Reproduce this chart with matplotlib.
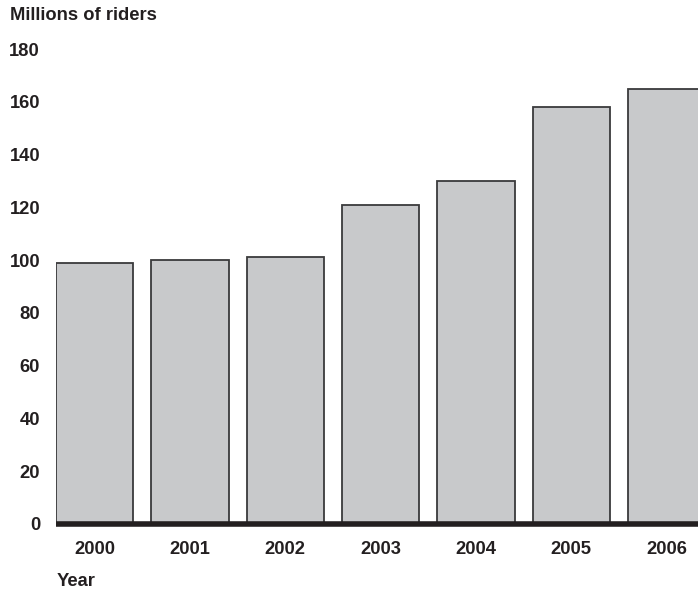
import matplotlib.pyplot as plt

years = ["2000", "2001", "2002", "2003", "2004", "2005", "2006"]
riders = [99, 100, 101, 121, 130, 158, 165]
y_ticks = [0, 20, 40, 60, 80, 100, 120, 140, 160, 180]

TEXT = "#231f20"
BAR_FILL = "#c8c9cb"
BAR_EDGE = "#3a3a3c"

plt.rcParams["font.family"] = ["Liberation Sans", "DejaVu Sans"]
plt.rcParams["font.weight"] = "bold"

fig = plt.figure(figsize=(6.98, 5.91), dpi=100)
ax = fig.add_axes([56 / 698, 67 / 591, 642 / 698, 475 / 591])

x = list(range(len(years)))
ax.bar(x, riders, width=0.81, color=BAR_FILL, edgecolor=BAR_EDGE,
       linewidth=1.3, zorder=2)
# thick dark baseline under the bars
ax.axhline(0, color=TEXT, linewidth=4.0, zorder=3, clip_on=False,
           solid_capstyle="butt")

ax.set_xlim(-0.405, 6.33)
ax.set_ylim(0, 180)
ax.set_xticks(x)
ax.set_xticklabels(years)
ax.set_yticks(y_ticks)
ax.set_yticklabels([str(v) for v in y_ticks])
ax.tick_params(axis="both", length=0, labelsize=13.2, colors=TEXT)
ax.tick_params(axis="y", pad=11.5)
ax.tick_params(axis="x", pad=12)
for s in ax.spines.values():
    s.set_visible(False)

fig.text(10 / 698, 1 - 15 / 591, "Millions of riders", fontsize=13.2,
         fontweight="bold", color=TEXT, va="center", ha="left")
fig.text(57 / 698, 1 - 581 / 591, "Year", fontsize=13.2,
         fontweight="bold", color=TEXT, va="center", ha="left")

fig.savefig("out.png", dpi=100)
